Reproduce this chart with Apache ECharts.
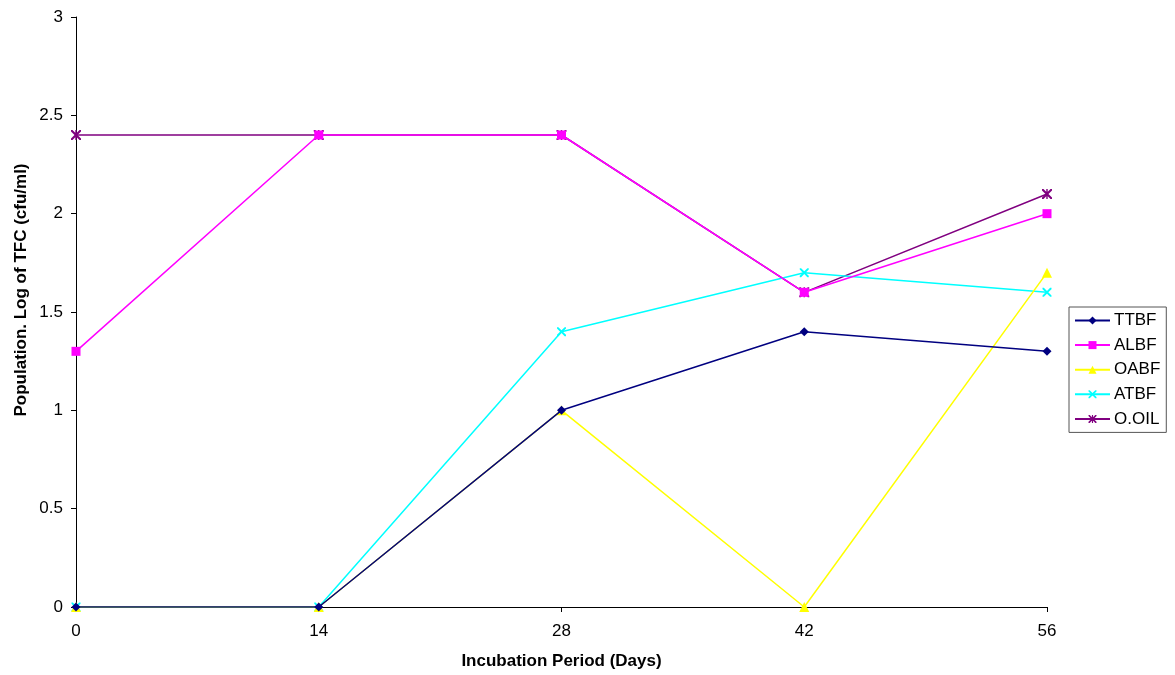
<!DOCTYPE html>
<html><head><meta charset="utf-8">
<script src="https://cdn.jsdelivr.net/npm/echarts@6/dist/echarts.min.js"></script>
<style>html,body{margin:0;padding:0;background:#fff}#c{width:1175px;height:675px}</style>
</head><body><div id="c"></div>
<script>
const days = [0, 14, 28, 42, 56];
const seriesNames = ['TTBF', 'ALBF', 'OABF', 'ATBF', 'O.OIL'];
const TTBF = [0, 0, 1, 1.4, 1.3];
const ALBF = [1.3, 2.4, 2.4, 1.6, 2.0];
const OABF = [0, 0, 1, 0, 1.7];
const ATBF = [0, 0, 1.4, 1.7, 1.6];
const OOIL = [2.4, 2.4, 2.4, 1.6, 2.1];
const values = [TTBF, ALBF, OABF, ATBF, OOIL];
const xTitle = 'Incubation Period (Days)';
const yTitle = 'Population. Log of TFC (cfu/ml)';

const colors = ['#000080', '#FF00FF', '#FFFF00', '#00FFFF', '#800080'];
const xPath = 'path://M0,0 L1.5,0 L5,3.5 L8.5,0 L10,0 L10,1.5 L6.5,5 L10,8.5 L10,10 L8.5,10 L5,6.5 L1.5,10 L0,10 L0,8.5 L3.5,5 L0,1.5 Z';
const starPath = 'path://M0,0 L1.5,0 L5,3.5 L8.5,0 L10,0 L10,1.5 L6.5,5 L10,8.5 L10,10 L8.5,10 L5,6.5 L1.5,10 L0,10 L0,8.5 L3.5,5 L0,1.5 Z M4.3,0 L5.7,0 L5.7,10 L4.3,10 Z';
const symbols = ['diamond', 'rect', 'triangle', xPath, starPath];
const sizes = [9, 9, 10, 9, 10];
const FONT = 'Liberation Sans, Arial, sans-serif';

const chart = echarts.init(document.getElementById('c'));
chart.setOption({
  animation: false,
  textStyle: { fontFamily: FONT },
  grid: { left: 76, right: 128, top: 17, bottom: 68, containLabel: false },
  legend: {
    orient: 'vertical', left: 1069, top: 307,
    data: seriesNames,
    itemWidth: 35, itemHeight: 10, itemGap: 7.6,
    borderColor: '#555', borderWidth: 1, padding: [5, 6, 5, 5],
    textStyle: { fontSize: 17, color: '#000', fontFamily: FONT, padding: [0, 0, 0, -1] }
  },
  graphic: [{
    type: 'text', x: 21, y: 290, rotation: Math.PI / 2,
    style: { text: yTitle, align: 'center', verticalAlign: 'middle', font: 'bold 17px ' + FONT, fill: '#000' }
  }],
  xAxis: {
    type: 'value', min: 0, max: 56, interval: 14,
    name: xTitle, nameLocation: 'middle', nameGap: 46,
    nameTextStyle: { fontSize: 17, fontWeight: 'bold', color: '#000' },
    axisLine: { lineStyle: { color: '#000', width: 1 } },
    axisTick: { show: true, inside: false, length: 5, lineStyle: { color: '#000' } },
    axisLabel: { fontSize: 17, color: '#000', margin: 16 },
    splitLine: { show: false }
  },
  yAxis: {
    type: 'value', min: 0, max: 3, interval: 0.5,
    axisLine: { show: true, lineStyle: { color: '#000', width: 1 } },
    axisTick: { show: true, inside: false, length: 5, lineStyle: { color: '#000' } },
    axisLabel: { fontSize: 17, color: '#000', margin: 13 },
    splitLine: { show: false }
  },
  series: seriesNames.map((n, i) => ({
    name: n, type: 'line',
    data: days.map((d, j) => [d, values[i][j]]),
    symbol: symbols[i], symbolSize: sizes[i], showSymbol: true,
    lineStyle: { color: colors[i], width: 1.5 },
    itemStyle: { color: colors[i], borderWidth: 0 },
    z: 10 - i
  }))
});
</script></body></html>
